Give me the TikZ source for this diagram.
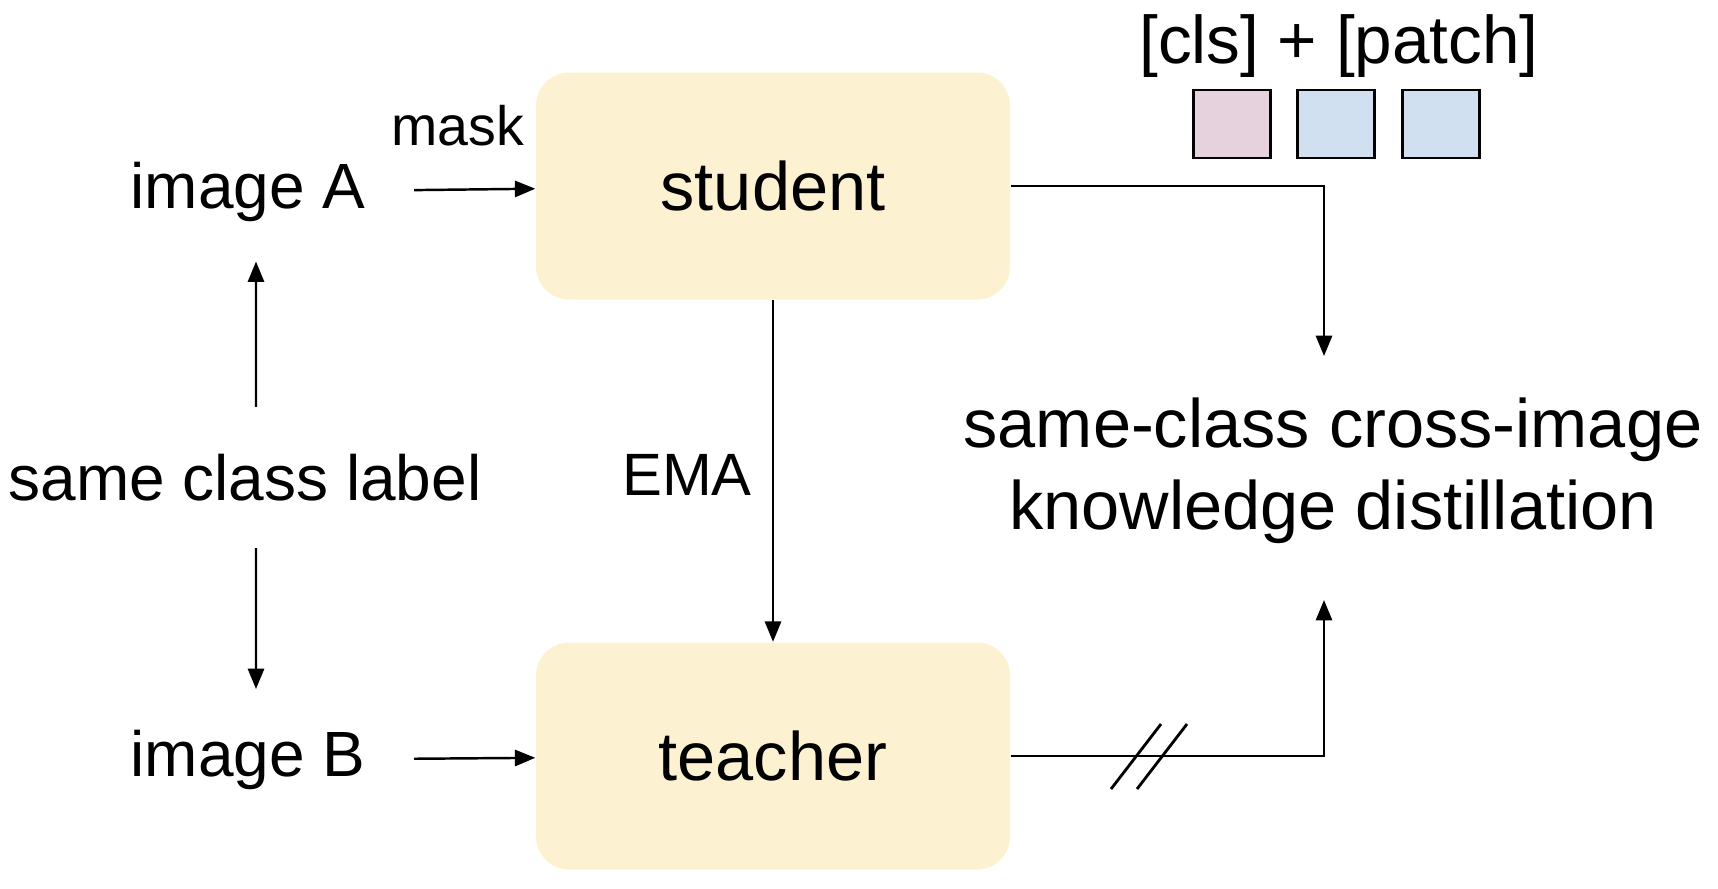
\documentclass[tikz,border=0pt]{standalone}
\usepackage{fontspec}
\setmainfont{Liberation Sans}
\usetikzlibrary{arrows.meta,positioning}
\definecolor{NetYellow}{RGB}{252,241,208}
\definecolor{TokenCls}{RGB}{230,210,220}
\definecolor{TokenPatch}{RGB}{208,224,240}

\begin{document}
\begin{tikzpicture}[
        net/.style={fill=NetYellow, rounded corners=0.33cm, minimum width=4.74cm,
                                minimum height=2.27cm, font=\fontsize{19.5}{23}\selectfont},
        lbl/.style={font=\fontsize{18.2}{22}\selectfont, inner sep=0pt},
        token/.style={draw, line width=0.8pt, minimum width=0.77cm, minimum height=0.68cm,
                                inner sep=0pt},
        arr/.style={-{Triangle[length=5.8pt, width=4.6pt]}, line width=0.7pt},
        brk/.style={line width=0.8pt}
]
    \useasboundingbox (0,0) rectangle (17.18,-8.88);
    \node[net]  (student) at (7.73,-1.86) {student};
    \node[net]  (teacher) at (7.73,-7.56) {teacher};
    \node[lbl]  (imgA)    at (2.48,-1.92) {image A};
    \node[lbl]  (imgB)    at (2.48,-7.60) {image B};
    \node[lbl]  (same)    at (2.45,-4.78) {same class label};
    \node[lbl, font=\fontsize{15.8}{19}\selectfont] (mask) at (4.58,-1.26) {mask};
    \node[lbl, font=\fontsize{17}{20}\selectfont]   (ema)  at (6.87,-4.75) {EMA};
    \node[lbl, align=center, font=\fontsize{19.5}{23.4}\selectfont]
                (distill) at (13.33,-4.71) {same-class cross-image\\knowledge distillation};
    \node[lbl, font=\fontsize{19.2}{23}\selectfont] (tokens) at (13.39,-0.46) {[cls] + [patch]};
    \node[token, fill=TokenCls]   (cls)    at (12.32,-1.24) {};
    \node[token, fill=TokenPatch] (patchA) at (13.36,-1.24) {};
    \node[token, fill=TokenPatch] (patchB) at (14.41,-1.24) {};
    \coordinate (dtop) at (13.24,-3.56);
    \coordinate (dbot) at (13.24,-6.00);
    \draw[arr, shorten <=4.8mm] (imgA) -- (student);
    \draw[arr, shorten <=4.8mm] (imgB) -- (teacher);
    \draw[arr, shorten <=4.7mm, shorten >=3.9mm] ([xshift=1.1mm]same.north) -- ([xshift=0.8mm]imgA.south);
    \draw[arr, shorten <=4.6mm, shorten >=4.05mm] ([xshift=1.1mm]same.south) -- ([xshift=0.8mm]imgB.north);
    \draw[arr] (student) -- (teacher);
    \draw[arr] (student.east) -| (dtop);
    \draw[arr] (teacher.east) -| (dbot);
    % break marks on the teacher branch
    \foreach \bx in {11.36,11.62}
        \draw[brk] ({\bx-0.25},-7.89) -- ({\bx+0.25},-7.24);
\end{tikzpicture}
\end{document}
